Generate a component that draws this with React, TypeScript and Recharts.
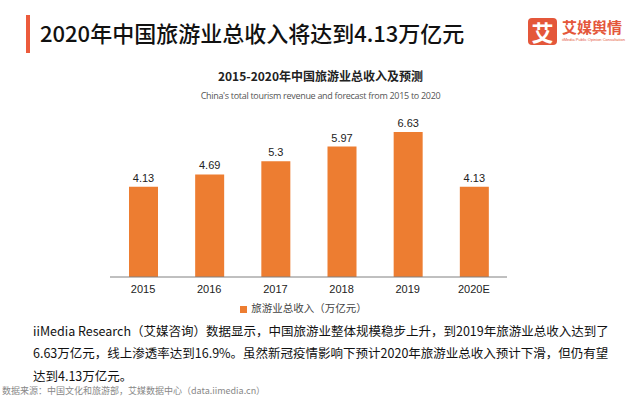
import { Bar, BarChart, LabelList, Legend, XAxis, YAxis } from "recharts";

const years = ["2015", "2016", "2017", "2018", "2019", "2020E"];
const revenue = [4.13, 4.69, 5.3, 5.97, 6.63, 4.13];

const data = years.map((year, i) => ({ year, revenue: revenue[i] }));

const CJK = '"Noto Sans CJK SC", "Noto Sans", sans-serif';
const ARIAL = '"Liberation Sans", Arial, sans-serif';
const BAR = "#ED7D31";

const paragraph = [
  "iiMedia Research（艾媒咨询）数据显示，中国旅游业整体规模稳步上升，到2019年旅游业总收入达到了",
  "6.63万亿元，线上渗透率达到16.9%。虽然新冠疫情影响下预计2020年旅游业总收入预计下滑，但仍有望",
  "达到4.13万亿元。",
];
const paragraphTops = [323, 345, 368];

export default function App() {
  return (
    <div
      style={{
        position: "absolute",
        left: 0,
        top: 0,
        width: 641,
        height: 397,
        overflow: "hidden",
        background: "#fff",
        fontFamily: CJK,
      }}
    >
      {/* page header */}
      <div style={{ position: "absolute", left: 26, top: 15, width: 4, height: 38, background: "#EC5B3C" }} />
      <div
        style={{
          position: "absolute",
          left: 40,
          top: 17,
          fontSize: 22,
          fontWeight: 500,
          color: "#111",
          lineHeight: "30px",
          whiteSpace: "nowrap",
        }}
      >
        2020年中国旅游业总收入将达到4.13万亿元
      </div>

      {/* logo */}
      <div
        style={{
          position: "absolute",
          left: 528,
          top: 18,
          width: 29,
          height: 27,
          borderRadius: 4,
          background: "#E4573A",
          color: "#fff",
          fontSize: 22,
          fontWeight: 700,
          lineHeight: "27px",
          textAlign: "center",
        }}
      >
        艾
      </div>
      <div
        style={{
          position: "absolute",
          left: 562,
          top: 17,
          fontSize: 15,
          fontWeight: 700,
          color: "#E4573A",
          lineHeight: "20px",
          whiteSpace: "nowrap",
        }}
      >
        艾媒舆情
      </div>
      <div
        style={{
          position: "absolute",
          left: 562,
          top: 37,
          fontSize: 4,
          color: "#E4573A",
          whiteSpace: "nowrap",
          fontFamily: ARIAL,
        }}
      >
        iiMedia Public Opinion Consultation
      </div>

      {/* chart titles */}
      <div
        style={{
          position: "absolute",
          left: 0,
          width: 641,
          top: 67,
          textAlign: "center",
          fontSize: 12,
          fontWeight: 700,
          color: "#222",
          lineHeight: "18px",
        }}
      >
        2015-2020年中国旅游业总收入及预测
      </div>
      <div
        style={{
          position: "absolute",
          left: 0,
          width: 641,
          top: 89,
          textAlign: "center",
          fontSize: 9,
          color: "#555",
          lineHeight: "14px",
          fontFamily: '"Open Sans", sans-serif',
          letterSpacing: -0.3,
        }}
      >
        China's total tourism revenue and forecast from 2015 to 2020
      </div>

      <div style={{ position: "absolute", left: 0, top: 0 }}>
        <BarChart
          width={641}
          height={318}
          data={data}
          margin={{ top: 124, right: 134, bottom: 0, left: 110 }}
        >
          <XAxis
            dataKey="year"
            height={21}
            tickLine={false}
            axisLine={{ stroke: "#808080" }}
            tick={{ fill: "#222", fontSize: 11, fontFamily: ARIAL }}
            interval={0}
          />
          <YAxis hide domain={[0, 7]} />
          <Legend
            verticalAlign="bottom"
            align="center"
            iconType="square"
            iconSize={7}
            wrapperStyle={{ height: 20, fontSize: 10.5, fontFamily: CJK, lineHeight: "20px" }}
            formatter={(value) => <span style={{ color: "#444" }}>{value}</span>}
          />
          <Bar
            dataKey="revenue"
            name="旅游业总收入（万亿元）"
            fill={BAR}
            barSize={29}
            isAnimationActive={false}
          >
            <LabelList
              dataKey="revenue"
              position="top"
              offset={5}
              style={{ fill: "#222", fontSize: 11, fontFamily: ARIAL }}
            />
          </Bar>
        </BarChart>
      </div>

      {/* commentary */}
      {paragraph.map((line, i) => (
        <div
          key={line}
          style={{
            position: "absolute",
            left: 33,
            top: paragraphTops[i],
            fontSize: 12.5,
            color: "#111",
            lineHeight: "16px",
            whiteSpace: "nowrap",
          }}
        >
          {line}
        </div>
      ))}
      <div
        style={{
          position: "absolute",
          left: 2,
          top: 385,
          fontSize: 9,
          color: "#888",
          lineHeight: "12px",
          whiteSpace: "nowrap",
        }}
      >
        数据来源：中国文化和旅游部，艾媒数据中心（data.iimedia.cn）
      </div>
    </div>
  );
}
